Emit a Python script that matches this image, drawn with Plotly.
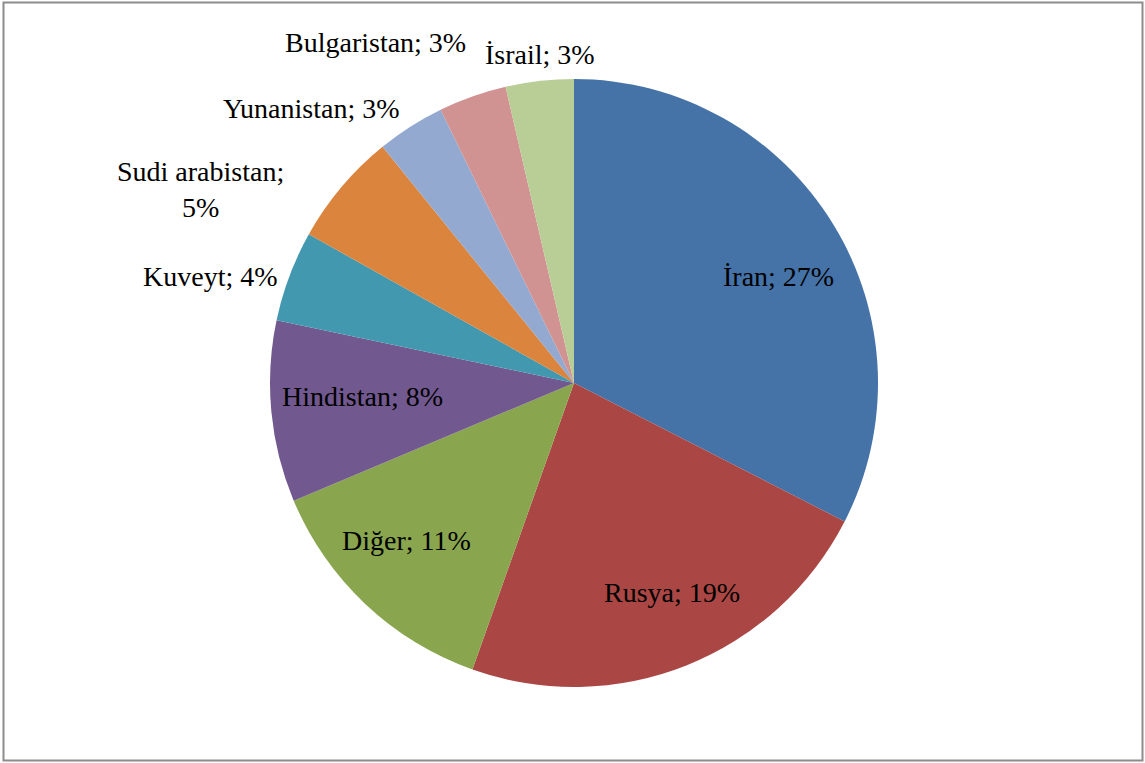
import plotly.graph_objects as go

labels = ["İran", "Rusya", "Diğer", "Hindistan", "Kuveyt", "Sudi arabistan",
          "Yunanistan", "Bulgaristan", "İsrail"]
values = [27, 19, 11, 8, 4, 5, 3, 3, 3]
colors = ["#4572A7", "#AA4643", "#89A54E", "#71588F", "#4198AF", "#DB843D",
          "#93A9CF", "#D19392", "#B9CD96"]

# label centre positions in pixels (layout only)
label_pos = [(778, 277), (672, 592), (406, 540), (362, 396), (210, 277),
             (200, 189), (311, 108), (375, 42), (540, 55)]

W, H = 1145, 763
cx, cy, r = 574, 383, 304

texts = []
for lab, v in zip(labels, values):
    if lab == "Sudi arabistan":
        texts.append(f"{lab};<br>{v}%")
    else:
        texts.append(f"{lab}; {v}%")

fig = go.Figure(go.Pie(
    labels=labels, values=values, textinfo="none",
    sort=False, direction="clockwise", rotation=0,
    marker=dict(colors=colors, line=dict(width=0)),
    hoverinfo="label+value",
    domain=dict(x=[(cx - r) / W, (cx + r) / W], y=[1 - (cy + r) / H, 1 - (cy - r) / H]),
    showlegend=False,
))

annotations = []
for t, (px, py) in zip(texts, label_pos):
    annotations.append(dict(
        text=t, x=px / W, y=1 - py / H, xref="paper", yref="paper",
        xanchor="center", yanchor="middle", showarrow=False, align="center",
        font=dict(family="Liberation Serif", size=28, color="black"),
    ))

fig.update_layout(
    width=W, height=H,
    margin=dict(l=0, r=0, t=0, b=0),
    paper_bgcolor="white",
    annotations=annotations,
    shapes=[dict(type="rect", xref="paper", yref="paper",
                 x0=3.5 / W, x1=1142.5 / W, y0=1 - 760.5 / H, y1=1 - 2.5 / H,
                 line=dict(color="#8c8c8c", width=2), fillcolor="rgba(0,0,0,0)")],
)

fig.write_html("out.html", config={"displayModeBar": False},
               post_script="document.body.style.margin='0';document.body.style.overflow='hidden';")
